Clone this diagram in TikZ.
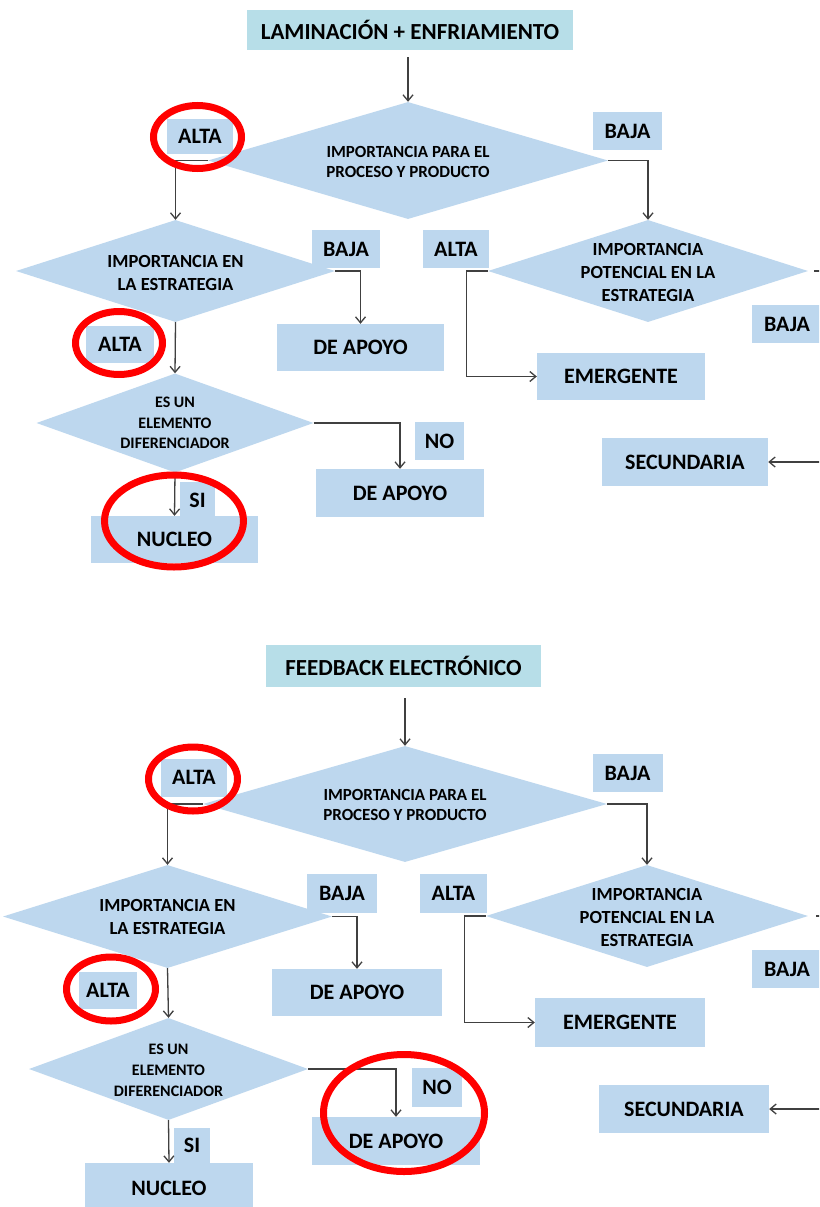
\documentclass[tikz,border=0pt]{standalone}
\usepackage{fontspec}
\setmainfont{Carlito}
\usetikzlibrary{shapes.geometric,arrows.meta,calc}
\definecolor{boxblue}{HTML}{BDD7EE}
\definecolor{titlecyan}{HTML}{B7DEE8}
\definecolor{linegray}{HTML}{404040}
\definecolor{ringred}{HTML}{FF0000}
\tikzset{
 lbl/.style={fill=boxblue, draw=none, inner sep=0pt, font=\bfseries\fontsize{22}{24}\selectfont, text=black},
 titlebox/.style={lbl, fill=titlecyan, font=\bfseries\fontsize{23}{25}\selectfont},
 dia/.style={diamond, fill=boxblue, draw=none, inner sep=0pt},
 dtext/.style={align=center, inner sep=0pt, text=black, font=\bfseries\fontsize{17}{20}\selectfont},
 dtextb/.style={dtext, font=\bfseries\fontsize{18.5}{23}\selectfont},
 conn/.style={draw=linegray, line width=1.3pt, -{Straight Barb[length=6pt,width=10pt]}},
 ring/.style={ellipse, draw=ringred, line width=7pt, inner sep=0pt},
}
\begin{document}
\begin{tikzpicture}[x=1pt,y=-1pt]
\useasboundingbox (0,0) rectangle (819,1207);
\clip (0,0) rectangle (819,1207);
\fill[white] (0,0) rectangle (819,1207);

% ================= TOP =================
\node[titlebox, minimum width=326, minimum height=40] (t1) at (410,30) {LAMINACIÓN + ENFRIAMIENTO};
\node[dia, minimum width=400, minimum height=117] (d1) at (408,160.5) {};
\node[dtext] (d1t) at (408,162) {IMPORTANCIA PARA EL\\PROCESO Y PRODUCTO};
\node[lbl, minimum width=66, minimum height=35] (alta1) at (200,136.5) {ALTA};
\node[lbl, minimum width=69, minimum height=38] (baja1) at (627.5,131) {BAJA};

\node[dia, minimum width=319, minimum height=102] (d2) at (175.5,271) {};
\node[dtextb] (d2t) at (175.5,272.5) {IMPORTANCIA EN\\LA ESTRATEGIA};
\node[lbl, minimum width=68, minimum height=38] (baja2) at (346,249) {BAJA};
\node[lbl, minimum width=66, minimum height=38] (alta2) at (456,249) {ALTA};

\node[dia, minimum width=320, minimum height=102] (d3) at (648,271) {};
\node[dtextb] (d3t) at (648,272) {IMPORTANCIA\\POTENCIAL EN LA\\ESTRATEGIA};
\node[lbl, minimum width=70, minimum height=38] (baja3) at (787,324) {BAJA};

\node[lbl, minimum width=167, minimum height=47] (apoyo1) at (360.5,347.5) {DE APOYO};
\node[lbl, minimum width=68, minimum height=37] (alta3) at (120,344.5) {ALTA};
\node[lbl, minimum width=168, minimum height=47] (emerg1) at (621,376.5) {EMERGENTE};

\node[dia, minimum width=277, minimum height=99] (d4) at (175,423) {};
\node[dtext, font=\bfseries\fontsize{16}{20.5}\selectfont] (d4t) at (175,423) {ES UN\\ELEMENTO\\DIFERENCIADOR};
\node[lbl, minimum width=49, minimum height=38] (no1) at (439.5,441) {NO};
\node[lbl, minimum width=168, minimum height=48] (apoyo2) at (400,493) {DE APOYO};
\node[lbl, minimum width=166, minimum height=48] (sec1) at (685,462) {SECUNDARIA};
\node[lbl, minimum width=167, minimum height=47] (nucleo1) at (174.5,539.5) {NUCLEO};
\node[lbl, minimum width=35, minimum height=36] (si1) at (197.5,500) {SI};

\draw[conn] ($(d1.north |- t1.south)+(0,7)$) -- (d1.north);
\draw[conn] (d1.west) -| (d2.north);
\draw[conn] (d1.east) -| (d3.north);
\draw[conn] (d2.east) -| (apoyo1.north);
\draw[conn] (d2.south) -- (d4.north);
\draw[conn] (d3.west) -- ++(-21,0) |- (emerg1.west);
\draw[conn] ([xshift=6pt]d3.east) -- ++(40,0) |- (sec1.east);
\draw[conn] (d4.east) -| (apoyo2.north);
\draw[conn] (d4.south) -- (nucleo1.north);

\node[ring, minimum width=88, minimum height=63] (r1) at (197.5,137) {};
\node[ring, minimum width=87, minimum height=63] (r2) at (119,343) {};
\node[ring, minimum width=139, minimum height=92] (r3) at (174,521) {};

% ================= BOTTOM =================
\node[titlebox, minimum width=275, minimum height=42] (t2) at (403.5,666) {FEEDBACK ELECTRÓNICO};
\node[dia, minimum width=404, minimum height=116] (d5) at (405,804) {};
\node[dtext] (d5t) at (405,805) {IMPORTANCIA PARA EL\\PROCESO Y PRODUCTO};
\node[lbl, minimum width=66, minimum height=38] (alta4) at (194,777.5) {ALTA};
\node[lbl, minimum width=70, minimum height=38] (baja4) at (627.5,773) {BAJA};

\node[dia, minimum width=329, minimum height=103] (d6) at (167.5,916.5) {};
\node[dtextb] (d6t) at (167.5,916.5) {IMPORTANCIA EN\\LA ESTRATEGIA};
\node[lbl, minimum width=70, minimum height=39] (baja5) at (342,893.5) {BAJA};
\node[lbl, minimum width=67, minimum height=39] (alta5) at (453.5,893.5) {ALTA};

\node[dia, minimum width=322, minimum height=102] (d7) at (647,916) {};
\node[dtextb] (d7t) at (647,917) {IMPORTANCIA\\POTENCIAL EN LA\\ESTRATEGIA};
\node[lbl, minimum width=70, minimum height=38] (baja6) at (787,969) {BAJA};

\node[lbl, minimum width=170, minimum height=47] (apoyo3) at (357,992.5) {DE APOYO};
\node[lbl, minimum width=58, minimum height=37] (alta6) at (108,990.5) {ALTA};
\node[lbl, minimum width=170, minimum height=49] (emerg2) at (620,1022.5) {EMERGENTE};

\node[dia, minimum width=279, minimum height=102] (d8) at (168.5,1069) {};
\node[dtext, font=\bfseries\fontsize{16}{21}\selectfont] (d8t) at (168.5,1070) {ES UN\\ELEMENTO\\DIFERENCIADOR};
\node[lbl, minimum width=50, minimum height=39] (no2) at (437,1087.5) {NO};
\node[lbl, minimum width=168, minimum height=48] (apoyo4) at (396,1141) {DE APOYO};
\node[lbl, minimum width=170, minimum height=48] (sec2) at (684,1109) {SECUNDARIA};
\node[lbl, minimum width=168, minimum height=50] (nucleo2) at (169,1188) {NUCLEO};
\node[lbl, minimum width=36, minimum height=35] (si2) at (192,1145.5) {SI};

\draw[conn] ($(d5.north |- t2.south)+(0,11)$) -- (d5.north);
\draw[conn] (d5.west) -| (d6.north);
\draw[conn] (d5.east) -| (d7.north);
\draw[conn] (d6.east) -| (apoyo3.north);
\draw[conn] (d6.south) -- (d8.north);
\draw[conn] (d7.west) -- ++(-21,0) |- (emerg2.west);
\draw[conn] ([xshift=8pt]d7.east) -- ++(40,0) |- (sec2.east);
\draw[conn] (d8.east) -| (apoyo4.north);
\draw[conn] (d8.south) -- (nucleo2.north);

\node[ring, minimum width=89, minimum height=64] (r4) at (193,779) {};
\node[ring, minimum width=89, minimum height=64] (r5) at (111,989) {};
\node[ring, minimum width=161, minimum height=117] (r6) at (404,1113) {};
\end{tikzpicture}
\end{document}
